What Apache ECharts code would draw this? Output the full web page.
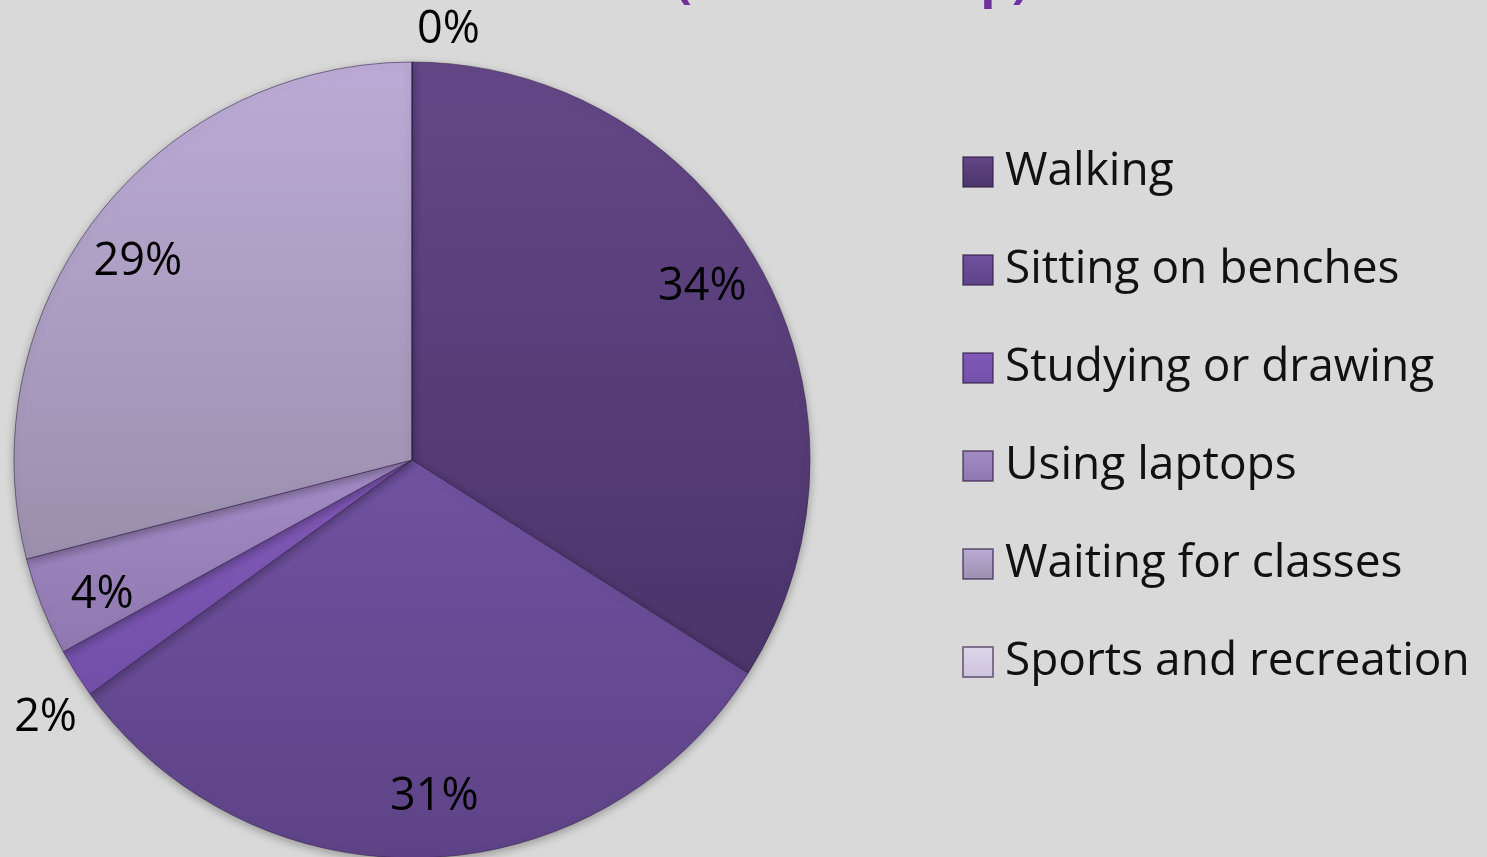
<!DOCTYPE html>
<html>
<head>
<meta charset="utf-8">
<script src="https://cdn.jsdelivr.net/npm/echarts@6/dist/echarts.min.js"></script>
<style>
html,body{margin:0;padding:0;background:#d9d9d9;}
#main{width:1487px;height:857px;}
</style>
</head>
<body>
<div id="main"></div>
<script>
var categories = ['Walking', 'Sitting on benches', 'Studying or drawing', 'Using laptops', 'Waiting for classes', 'Sports and recreation'];
var values = [34, 31, 2, 4, 29, 0];

// slice shading, light at top -> darker at bottom
var topColors = ['#644788', '#7052a1', '#8259b9', '#a48cc7', '#bcabd6', '#ddd5ea'];
var bottomColors = ['#4a3469', '#5d4386', '#7250a8', '#8f77af', '#9b8fad', '#cdc4dc'];

var chart = echarts.init(document.getElementById('main'));

function grad(i) {
	return new echarts.graphic.LinearGradient(0, 0, 0, 1, [
		{offset: 0, color: topColors[i]},
		{offset: 1, color: bottomColors[i]}
	]);
}

var pieData = categories.map(function (name, i) {
	var item = {
		name: name,
		value: values[i],
		itemStyle: {color: grad(i)},
		label: {show: false}
	};
	// small slices get their label outside the pie
	if (i === 2 || i === 5) {
		item.label = {show: true, position: 'outside'};
		item.labelLine = {show: false, length: i === 5 ? 32 : 20, length2: 0};
	}
	return item;
});

var ringData = categories.map(function (name, i) {
	return {
		name: name,
		value: values[i],
		label: {show: !(i === 2 || i === 5)}
	};
});

var option = {
	backgroundColor: '#d9d9d9',
	animation: false,
	title: {
		text: '(Lunch Group)',
		left: 670,
		top: -47,
		textStyle: {
			fontFamily: 'Open Sans',
			fontSize: 50,
			fontWeight: 'bold',
			color: '#7030a0'
		}
	},
	legend: {
		orient: 'vertical',
		left: 962,
		top: 147,
		padding: 0,
		itemWidth: 30,
		itemHeight: 30,
		itemGap: 48,
		icon: 'rect',
		data: categories,
		textStyle: {
			fontFamily: 'Open Sans',
			fontSize: 46,
			lineHeight: 50,
			color: '#111',
			padding: [0, 0, 0, 7]
		}
	},
	series: [
		{
			name: 'main',
			type: 'pie',
			center: [412, 460],
			radius: [0, 398],
			startAngle: 90,
			clockwise: true,
			avoidLabelOverlap: false,
			percentPrecision: 0,
			itemStyle: {
				borderColor: 'rgba(50,30,70,0.55)',
				borderWidth: 1,
				shadowBlur: 10,
				shadowOffsetY: 3,
				shadowColor: 'rgba(0,0,0,0.3)'
			},
			label: {
				formatter: '{d}%',
				fontFamily: 'Open Sans',
				fontSize: 45,
				color: '#000'
			},
			labelLayout: function (p) {
				if (p.dataIndex === 2) return {align: 'right', dx: 23, dy: 34};
				if (p.dataIndex === 5) return {align: 'left', dx: 10};
			},
			emphasis: {disabled: true},
			data: pieData
		},
		{
			name: 'labels',
			type: 'pie',
			center: [412, 460],
			radius: [272, 398],
			startAngle: 92,
			clockwise: true,
			silent: true,
			legendHoverLink: false,
			avoidLabelOverlap: false,
			percentPrecision: 0,
			itemStyle: {color: 'rgba(0,0,0,0)', borderWidth: 0},
			label: {
				position: 'inside',
				formatter: '{d}%',
				fontFamily: 'Open Sans',
				fontSize: 45,
				color: '#000'
			},
			labelLine: {show: false},
			emphasis: {disabled: true},
			data: ringData
		}
	]
};

chart.setOption(option);
</script>
</body>
</html>
